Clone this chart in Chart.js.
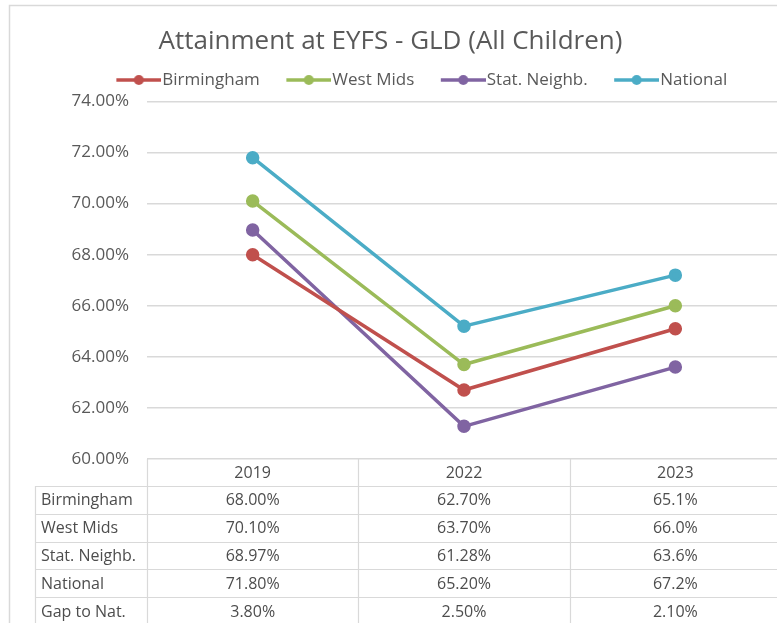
<!DOCTYPE html>
<html>
<head>
<meta charset="utf-8">
<script src="https://cdn.jsdelivr.net/npm/chart.js@4/dist/chart.umd.min.js"></script>
<style>
  html, body { margin: 0; padding: 0; background: #fff; overflow: hidden; }
  #wrap { width: 777px; height: 623px; overflow: hidden; position: relative; }
</style>
</head>
<body>
<div id="wrap"><canvas id="myChart" width="790" height="640"></canvas></div>
<script>
// Data
const years = ["2019", "2022", "2023"];
const birmingham = [68.0, 62.7, 65.1];
const westMids = [70.1, 63.7, 66.0];
const statNeighb = [68.97, 61.28, 63.6];
const national = [71.8, 65.2, 67.2];
const gapToNat = [3.8, 2.5, 2.1];
const seriesDecimals = [2, 2, 1];
const gapDecimals = [2, 2, 2];
const yMin = 60, yMax = 74, yStep = 2;

const FONT = "'Open Sans'";
const GREY = "#595959";
const LINE = "#d9d9d9";

// legend sample: short line with a dot, like Excel
function legendIcon(color) {
  const c = document.createElement("canvas");
  c.width = 67;
  c.height = 12;
  const g = c.getContext("2d");
  g.strokeStyle = color;
  g.lineWidth = 3.5;
  g.beginPath();
  g.moveTo(22, 6);
  g.lineTo(67, 6);
  g.stroke();
  g.fillStyle = color;
  g.beginPath();
  g.arc(44.5, 6, 5, 0, Math.PI * 2);
  g.fill();
  return c;
}

function makeSeries(label, color, values) {
  return {
    label: label,
    data: values,
    borderColor: color,
    backgroundColor: color,
    pointBackgroundColor: color,
    pointBorderColor: color,
    borderWidth: 3.5,
    pointRadius: 5,
    tension: 0,
    icon: legendIcon(color),
  };
}

const data = {
  labels: years,
  datasets: [
    makeSeries("Birmingham", "#c0504d", birmingham),
    makeSeries("West Mids", "#9bbb59", westMids),
    makeSeries("Stat. Neighb.", "#8064a2", statNeighb),
    makeSeries("National", "#4bacc6", national),
  ],
};

// background + outer frame
const framePlugin = {
  id: "frame",
  afterLayout(chart) {
    // legend sits a bit right of centre and close to the plot in the original
    chart.legend.left += 24;
    chart.legend.right += 24;
    chart.legend.top -= 3;
  },
  beforeDraw(chart) {
    const ctx = chart.ctx;
    ctx.save();
    ctx.fillStyle = "#fff";
    ctx.fillRect(0, 0, chart.width, chart.height);
    ctx.strokeStyle = LINE;
    ctx.lineWidth = 1.5;
    ctx.beginPath();
    ctx.moveTo(9.5, chart.height + 5);
    ctx.lineTo(9.5, 5.5);
    ctx.lineTo(chart.width + 5, 5.5);
    ctx.stroke();
    ctx.restore();
  },
};

// data table under the plot, columns from the x scale
const tablePlugin = {
  id: "dataTable",
  afterDraw(chart) {
    const ctx = chart.ctx;
    const xs = chart.scales.x;
    const area = chart.chartArea;
    const half = (xs.getPixelForValue(1) - xs.getPixelForValue(0)) / 2;
    const top = Math.round(area.bottom);
    const headH = 27;
    const rowH = 27.8;
    const labelLeft = 35;
    const rows = [
      ["Birmingham", birmingham, seriesDecimals],
      ["West Mids", westMids, seriesDecimals],
      ["Stat. Neighb.", statNeighb, seriesDecimals],
      ["National", national, seriesDecimals],
      ["Gap to Nat.", gapToNat, gapDecimals],
    ];
    const bottom = top + headH + rows.length * rowH;
    ctx.save();
    ctx.strokeStyle = LINE;
    ctx.lineWidth = 1.2;
    ctx.beginPath();
    for (let i = 0; i <= years.length; i++) {
      const xx = Math.round(xs.getPixelForValue(0) - half + i * half * 2) + 0.5;
      ctx.moveTo(xx, top);
      ctx.lineTo(xx, bottom);
    }
    ctx.moveTo(labelLeft + 0.5, top + headH);
    ctx.lineTo(labelLeft + 0.5, bottom);
    for (let r = 0; r <= rows.length; r++) {
      const yy = Math.round(top + headH + r * rowH) + 0.5;
      ctx.moveTo(labelLeft, yy);
      ctx.lineTo(area.right + half, yy);
    }
    ctx.stroke();

    ctx.fillStyle = "#4d4d4d";
    ctx.font = "16px " + FONT;
    ctx.textBaseline = "middle";
    ctx.textAlign = "center";
    years.forEach((y, i) => {
      ctx.fillText(y, xs.getPixelForValue(i), top + headH / 2 + 1);
    });
    rows.forEach((row, r) => {
      const cy = top + headH + r * rowH + rowH / 2 + 1;
      ctx.textAlign = "left";
      ctx.fillText(row[0], labelLeft + 6, cy);
      ctx.textAlign = "center";
      row[1].forEach((v, i) => {
        ctx.fillText(v.toFixed(row[2][i]) + "%", xs.getPixelForValue(i), cy);
      });
    });
    ctx.restore();
  },
};

const config = {
  type: "line",
  data: data,
  options: {
    responsive: false,
    animation: false,
    layout: {
      padding: { top: 4, left: 0, right: 9, bottom: 181 },
    },
    scales: {
      x: {
        display: false,
        offset: true,
      },
      y: {
        min: yMin,
        max: yMax,
        afterFit: (scale) => {
          scale.width = 147;
        },
        ticks: {
          stepSize: yStep,
          padding: 18,
          color: GREY,
          font: { family: FONT, size: 17 },
          callback: (v) => v.toFixed(2) + "%",
        },
        grid: {
          color: LINE,
          lineWidth: 1.5,
          drawTicks: false,
        },
        border: { display: false },
      },
    },
    plugins: {
      title: {
        display: true,
        text: "Attainment at EYFS - GLD (All Children)",
        color: GREY,
        font: { family: FONT, size: 26, weight: "normal" },
        padding: { top: 22, bottom: 5.3 },
      },
      legend: {
        display: true,
        labels: {
          color: GREY,
          font: { family: FONT, size: 17 },
          usePointStyle: true,
          pointStyleWidth: 52,
          padding: 12,
          generateLabels: (chart) => {
            const items = Chart.defaults.plugins.legend.labels.generateLabels(chart);
            items.forEach((it) => {
              it.pointStyle = chart.data.datasets[it.datasetIndex].icon;
            });
            return items;
          },
        },
      },
      tooltip: { enabled: false },
    },
  },
  plugins: [framePlugin, tablePlugin],
};

myChart = new Chart(document.getElementById("myChart"), config);
</script>
</body>
</html>
